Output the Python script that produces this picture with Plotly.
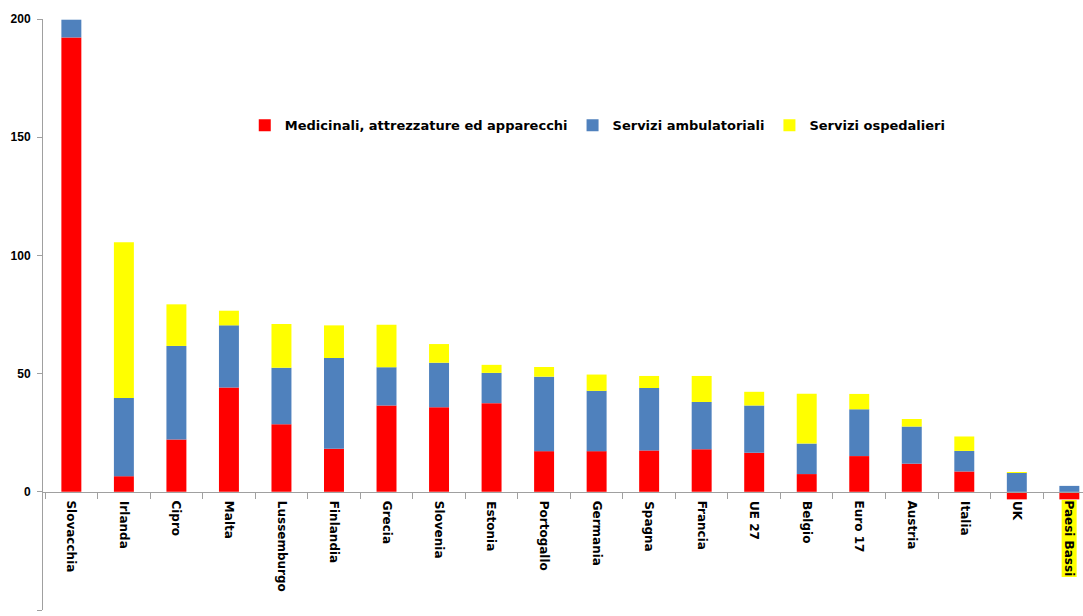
import plotly.graph_objects as go

categories = ["Slovacchia", "Irlanda", "Cipro", "Malta", "Lussemburgo", "Finlandia",
              "Grecia", "Slovenia", "Estonia", "Portogallo", "Germania", "Spagna",
              "Francia", "UE 27", "Belgio", "Euro 17", "Austria", "Italia", "UK",
              "Paesi Bassi"]

medicinali = [192.2, 6.6, 22.1, 44.1, 28.6, 18.2, 36.5, 35.8, 37.5, 17.2, 17.2, 17.5,
              18.0, 16.5, 7.5, 15.1, 11.9, 8.6, -3.2, -3.2]
ambulatoriali = [7.5, 33.1, 39.6, 26.3, 23.9, 38.4, 16.2, 18.8, 12.8, 31.5, 25.5, 26.4,
                 20.0, 20.0, 12.9, 19.8, 15.7, 8.7, 8.0, 2.5]
ospedalieri = [0.0, 65.9, 17.6, 6.2, 18.5, 13.8, 18.0, 7.9, 3.4, 4.1, 6.9, 5.1,
               11.0, 5.8, 21.1, 6.5, 3.2, 6.1, 0.3, 0.0]

series_names = ["Medicinali, attrezzature ed apparecchi", "Servizi ambulatoriali",
                "Servizi ospedalieri"]
colors = ["#FF0000", "#4F81BD", "#FFFF00"]
y_ticks = [-50, 0, 50, 100, 150, 200]

FONT = "DejaVu Sans"
TICKFONT = "Liberation Sans"

fig = go.Figure()
for name, vals, col in zip(series_names, [medicinali, ambulatoriali, ospedalieri], colors):
    fig.add_trace(go.Bar(x=categories, y=vals, name="<b>" + name + "</b>",
                         marker=dict(color=col, line=dict(width=0))))

for c in categories:
    hl = c == "Paesi Bassi"
    fig.add_annotation(x=c, y=0, xref="x", yref="y", text="<b>" + c + "</b>",
                       textangle=90, showarrow=False, xanchor="center", yanchor="top",
                       yshift=-8, font=dict(family=FONT, size=12, color="black"),
                       bgcolor="#FFFF00" if hl else None, borderpad=0)

fig.update_layout(
    width=1083, height=616,
    margin=dict(l=43, r=0, t=19, b=6),
    paper_bgcolor="white", plot_bgcolor="white",
    barmode="relative", bargap=0.62,
    showlegend=True,
    legend=dict(orientation="h", x=0.194, y=0.82, xanchor="left", yanchor="middle",
                font=dict(family=FONT, size=13, color="black"),
                bgcolor="rgba(0,0,0,0)", itemwidth=30, tracegroupgap=0),
    font=dict(family=FONT, size=12, color="black"),
)
fig.update_xaxes(type="category", range=[-0.54, 19.26], anchor="free", position=0.2,
                 showline=True, linecolor="#A0A0A0", linewidth=1,
                 ticks="outside", tickson="boundaries", ticklen=6, tickcolor="#A0A0A0",
                 showticklabels=False, showgrid=False, zeroline=False, automargin=False)
fig.update_yaxes(range=[-50, 200], tickvals=y_ticks,
                 ticktext=["<b>%d</b>" % v for v in y_ticks],
                 showline=True, linecolor="#A0A0A0", linewidth=1,
                 ticks="outside", ticklen=5, tickcolor="#A0A0A0", ticklabelstandoff=4,
                 showgrid=False, zeroline=False, automargin=False,
                 tickfont=dict(family=TICKFONT, size=12, color="black"))

fig.write_html("out.html", config={"displayModeBar": False},
               post_script="document.body.style.margin='0';document.body.style.overflow='hidden';")
